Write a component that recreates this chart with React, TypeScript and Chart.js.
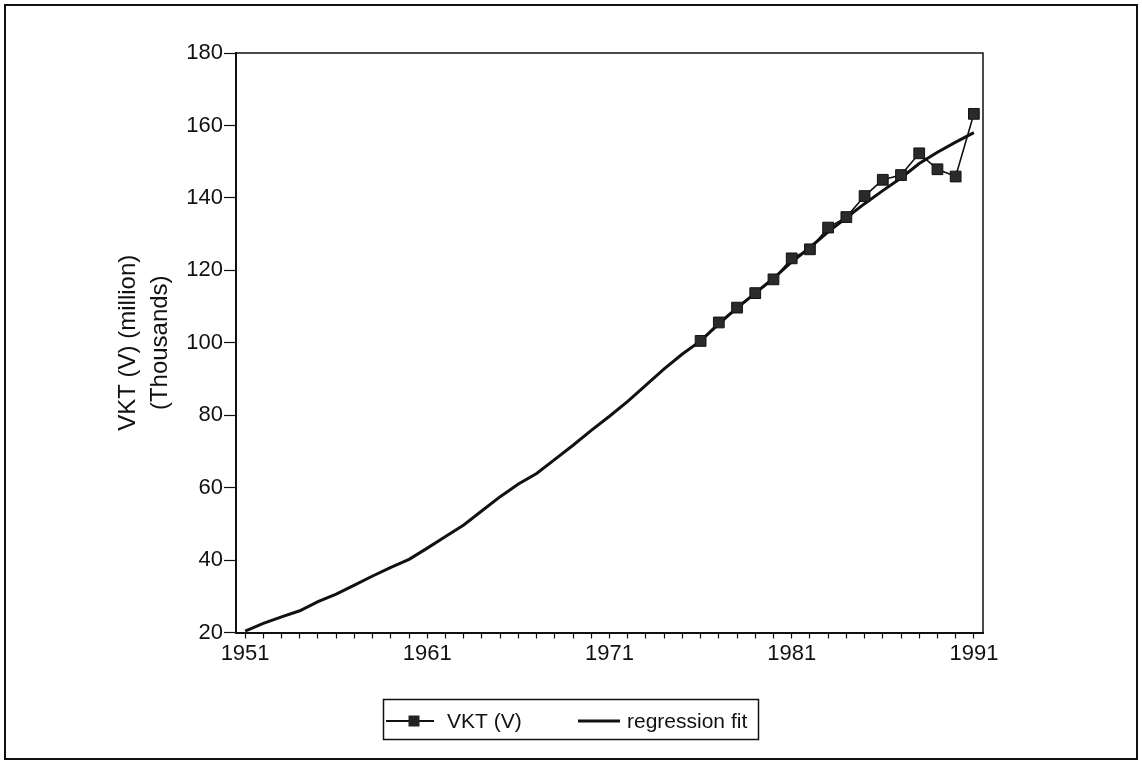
import React, { useEffect, useRef } from 'react';
import { Chart, registerables } from 'chart.js';

Chart.register(...registerables);

// ---- data ----
const vktYears = [1976, 1977, 1978, 1979, 1980, 1981, 1982, 1983, 1984, 1985, 1986, 1987, 1988, 1989, 1990, 1991];
const vktValues = [100.5, 105.6, 109.7, 113.7, 117.5, 123.3, 125.8, 131.8, 134.7, 140.5, 145.0, 146.3, 152.3, 147.9, 145.9, 163.2];

const fitYears = [
  1951, 1952, 1953, 1954, 1955, 1956, 1957, 1958, 1959, 1960,
  1961, 1962, 1963, 1964, 1965, 1966, 1967, 1968, 1969, 1970,
  1971, 1972, 1973, 1974, 1975, 1976, 1977, 1978, 1979, 1980,
  1981, 1982, 1983, 1984, 1985, 1986, 1987, 1988, 1989, 1990, 1991,
];
const fitValues = [
  20.4, 22.5, 24.3, 26.0, 28.5, 30.6, 33.1, 35.6, 38.0, 40.2,
  43.3, 46.5, 49.7, 53.6, 57.5, 61.0, 63.9, 67.8, 71.7, 75.8,
  79.7, 83.8, 88.3, 92.8, 96.9, 100.5, 105.2, 109.6, 113.7, 117.8,
  122.3, 126.3, 130.6, 134.5, 138.4, 142.0, 145.5, 149.5, 152.6, 155.4, 158.0,
];

const xTickLabels = [1951, 1961, 1971, 1981, 1991];
const yMin = 20;
const yMax = 180;
const yStep = 20;
const seriesNames = ['VKT (V)', 'regression fit'];
const yTitle = ['VKT (V) (million)', '(Thousands)'];

const FONT = '"Liberation Sans", Arial, Helvetica, sans-serif';

const framePlugin = {
  id: 'frame',
  beforeDraw(chart: any) {
    const ctx = chart.ctx;
    ctx.save();
    ctx.fillStyle = '#ffffff';
    ctx.fillRect(0, 0, chart.width, chart.height);
    ctx.strokeStyle = '#111';
    ctx.lineWidth = 2;
    ctx.strokeRect(5, 5, 1132, 754);
    ctx.restore();
  },
};

const boxPlugin = {
  id: 'box',
  afterDraw(chart: any) {
    const { ctx, chartArea } = chart;
    ctx.save();
    ctx.strokeStyle = '#111';
    ctx.lineWidth = 1.5;
    ctx.beginPath();
    ctx.moveTo(chartArea.left, chartArea.top);
    ctx.lineTo(chartArea.right, chartArea.top);
    ctx.lineTo(chartArea.right, chartArea.bottom);
    ctx.stroke();
    ctx.restore();
  },
};

const legendPlugin = {
  id: 'customLegend',
  afterDraw(chart: any) {
    const ctx = chart.ctx;
    ctx.save();
    ctx.strokeStyle = '#111';
    ctx.lineWidth = 1.5;
    ctx.strokeRect(383.5, 699.5, 375, 40);
    const cy = 721;
    // item 1
    ctx.lineWidth = 2;
    ctx.beginPath();
    ctx.moveTo(386, cy);
    ctx.lineTo(434, cy);
    ctx.stroke();
    ctx.fillStyle = '#222';
    ctx.fillRect(408.5, cy - 5.5, 11, 11);
    // item 2
    ctx.lineWidth = 3;
    ctx.beginPath();
    ctx.moveTo(578, cy);
    ctx.lineTo(620, cy);
    ctx.stroke();
    ctx.fillStyle = '#111';
    ctx.font = `21px ${FONT}`;
    ctx.textBaseline = 'middle';
    ctx.textAlign = 'left';
    ctx.fillText(seriesNames[0], 447, cy + 1);
    ctx.fillText(seriesNames[1], 627, cy + 1);
    ctx.restore();
  },
};

export default function App() {
  const ref = useRef<HTMLCanvasElement | null>(null);

  useEffect(() => {
    if (!ref.current) return;
    const chart = new Chart(ref.current, {
      type: 'line',
      data: {
        datasets: [
          {
            label: seriesNames[0],
            data: vktYears.map((x, i) => ({ x, y: vktValues[i] })),
            borderColor: '#111',
            borderWidth: 1.6,
            pointStyle: 'rect',
            pointRadius: 7.6,
            pointBackgroundColor: '#2a2a2a',
            pointBorderColor: '#111',
            pointBorderWidth: 1,
            tension: 0,
            fill: false,
          },
          {
            label: seriesNames[1],
            data: fitYears.map((x, i) => ({ x, y: fitValues[i] })),
            borderColor: '#111',
            borderWidth: 3,
            pointRadius: 0,
            tension: 0,
            fill: false,
          },
        ],
      },
      options: {
        animation: false,
        responsive: false,
        maintainAspectRatio: false,
        events: [],
        layout: { padding: { left: 0, top: 53, right: 159, bottom: 0 } },
        plugins: {
          legend: { display: false },
          tooltip: { enabled: false },
          title: { display: false },
        },
        scales: {
          x: {
            type: 'linear',
            min: 1950.5,
            max: 1991.5,
            afterBuildTicks: (scale: any) => {
              scale.ticks = fitYears.map((v) => ({ value: v }));
            },
            afterFit: (scale: any) => {
              scale.height = 761 - 632.5;
            },
            grid: {
              drawOnChartArea: false,
              drawTicks: true,
              tickLength: 6,
              tickColor: '#111',
              tickWidth: 1.2,
            },
            border: { display: true, color: '#111', width: 2 },
            ticks: {
              autoSkip: false,
              maxRotation: 0,
              padding: 2,
              color: '#111',
              font: { family: FONT, size: 22 },
              callback: (v: any) => (xTickLabels.includes(Number(v)) ? String(v) : ''),
            },
          },
          y: {
            type: 'linear',
            min: yMin,
            max: yMax,
            afterFit: (scale: any) => {
              scale.width = 236;
            },
            grid: {
              drawOnChartArea: false,
              drawTicks: true,
              tickLength: 12,
              tickColor: '#111',
              tickWidth: 1.2,
            },
            border: { display: true, color: '#111', width: 2 },
            ticks: {
              stepSize: yStep,
              padding: 1,
              color: '#111',
              font: { family: FONT, size: 22 },
            },
            title: {
              display: true,
              text: yTitle,
              color: '#111',
              font: { family: FONT, size: 24, lineHeight: 1.33 },
              padding: { top: 112, bottom: 0 },
            },
          },
        },
      },
      plugins: [framePlugin, boxPlugin, legendPlugin],
    } as any);
    return () => chart.destroy();
  }, []);

  return (
    <div style={{ position: 'absolute', left: 0, top: 0, width: 1142, height: 761 }}>
      <canvas ref={ref} width={1142} height={761} style={{ display: 'block' }} />
    </div>
  );
}
